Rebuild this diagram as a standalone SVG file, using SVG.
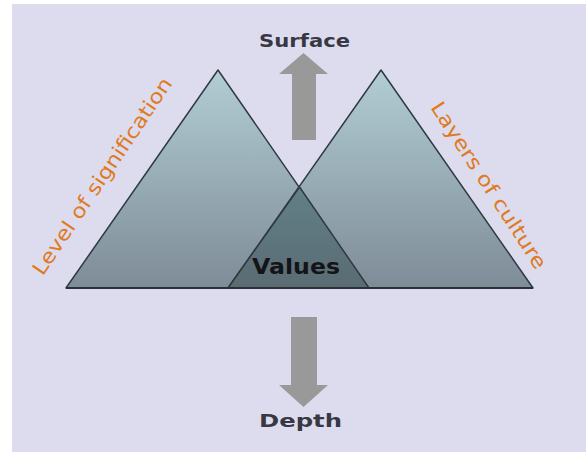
<svg xmlns="http://www.w3.org/2000/svg" width="586" height="452" viewBox="0 0 586 452">
  <defs>
    <linearGradient id="triGrad" gradientUnits="userSpaceOnUse" x1="0" y1="70" x2="0" y2="288">
      <stop offset="0" stop-color="#b2cdd4"/>
      <stop offset="1" stop-color="#7e8c98"/>
    </linearGradient>
    <linearGradient id="ovGrad" gradientUnits="userSpaceOnUse" x1="0" y1="187" x2="0" y2="288">
      <stop offset="0" stop-color="#628087"/>
      <stop offset="1" stop-color="#5a6b73"/>
    </linearGradient>
    <style>
      .tri { fill: url(#triGrad); stroke: #2e3a40; stroke-width: 1.5; stroke-linejoin: round; }
      .ov { fill: url(#ovGrad); stroke: #2e3a40; stroke-width: 1.5; stroke-linejoin: round; }
      .base { stroke: #2a3036; stroke-width: 2.2; }
      .arrow { fill: #999999; }
      .title { font-family: "DejaVu Sans", "Liberation Sans", sans-serif; font-weight: bold; fill: #383844; text-anchor: middle; }
      .side { font-family: "DejaVu Sans", "Liberation Sans", sans-serif; fill: #e07a22; text-anchor: middle; font-size: 20px; }
    </style>
  </defs>
  <rect x="0" y="0" width="586" height="452" fill="#ffffff"/>
  <rect x="12" y="4" width="574" height="448" fill="#dcdcee"/>

  <g id="triangle-left">
    <polygon class="tri" points="218,70 369,288 66,288"/>
  </g>
  <g id="triangle-right">
    <polygon class="tri" points="381,70 533,288 228,288"/>
  </g>
  <g id="values">
    <polygon class="ov" points="299.5,187 369,288 228,288"/>
    <line class="base" x1="66" y1="288" x2="533" y2="288"/>
    <text class="title" x="296" y="274" font-size="22" style="fill:#141418" textLength="88" lengthAdjust="spacingAndGlyphs">Values</text>
  </g>

  <g id="connectors">
    <polygon class="arrow" points="303.5,53 328,74 316,74 316,140 292,140 292,74 279,74"/>
    <polygon class="arrow" points="291,317 317,317 317,385 328,385 303.5,407 279,385 291,385"/>
  </g>

  <g id="surface">
    <text class="title" x="304.5" y="47" font-size="18" textLength="91" lengthAdjust="spacingAndGlyphs">Surface</text>
  </g>
  <g id="depth">
    <text class="title" x="300.5" y="427" font-size="18" textLength="83" lengthAdjust="spacingAndGlyphs">Depth</text>
  </g>
  <g id="label-left">
    <text class="side" transform="translate(108,180) rotate(-56)" x="0" y="0" textLength="233" lengthAdjust="spacingAndGlyphs">Level of signification</text>
  </g>
  <g id="label-right">
    <text class="side" transform="translate(483,189) rotate(57)" x="0" y="0" textLength="195" lengthAdjust="spacingAndGlyphs">Layers of culture</text>
  </g>
</svg>
